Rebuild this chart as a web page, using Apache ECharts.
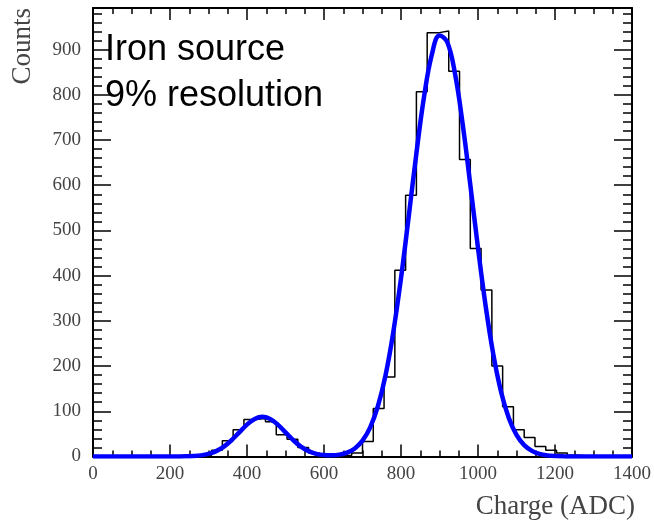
<!DOCTYPE html>
<html><head><meta charset="utf-8">
<script src="https://cdn.jsdelivr.net/npm/echarts@6/dist/echarts.min.js"></script>
<style>html,body{margin:0;padding:0;background:#fff}#c{width:654px;height:523px}</style>
</head><body><div id="c"></div>
<script>
// Histogram: 50 bins of width 28 ADC over 0..1400
const binWidth = 28;
const binCounts = [
  0, 0, 0, 0, 0, 0, 0, 0, 0, 0,
  3, 14, 35, 59, 82, 84, 77, 48, 38, 20,
  8, 3, 2, 3, 8, 33, 106, 176, 412, 578,
  807, 937, 941, 852, 657, 460, 368, 200, 110, 59,
  42, 22, 14, 8, 3, 1, 0, 0, 0, 0
];
// Fit curve
const fitX = [0,20,40,60,80,100,120,140,160,180,200,220,240,260,280,300,320,340,360,380,
  400,420,440,460,480,500,520,540,560,580,600,620,640,660,680,700,720,740,760,780,
  800,820,840,860,880,900,920,940,960,980,1000,1020,1040,1060,1080,1100,1120,1140,1160,1180,
  1200,1220,1240,1260,1280,1300,1320,1340,1360,1380,1400];
const fitY = [0,0,0,0,0,0,0,0,0,0,0,0.1,0.3,1.0,2.5,5.8,11.9,21.9,36.2,53.4,
  70.5,83.2,88,83.2,70.5,53.4,36.2,21.9,11.9,5.9,3.2,2.6,4.2,8.7,17.9,35,64.4,111.2,180.4,275.3,
  394.3,530.5,670.7,796.5,888.5,931,916.8,847.8,736.6,601.2,461,332,224.7,142.8,85.3,47.8,25.2,12.5,5.8,2.5,
  1.0,0.4,0,0,0,0,0,0,0,0,0];
const xTickLabels = [0, 200, 400, 600, 800, 1000, 1200, 1400];
const yTickLabels = [0, 100, 200, 300, 400, 500, 600, 700, 800, 900];
const xTitle = 'Charge (ADC)';
const yTitle = 'Counts';
const noteLines = ['Iron source', '9% resolution'];

const histData = binCounts.map((c, i) => [i * binWidth, c]);
histData.push([binCounts.length * binWidth, binCounts[binCounts.length - 1]]);
const fitData = fitX.map((x, i) => [x, fitY[i]]);

const serif = 'Liberation Serif';
const lineStyle = { color: '#000', width: 2 };
const tickStyle = { color: '#000', width: 1.5 };

function xAx(pos, showLabel) {
  return {
    type: 'value', position: pos, min: 0, max: 1400, interval: 200,
    axisLine: { show: true, onZero: false, lineStyle },
    axisTick: { show: true, inside: true, length: 12, lineStyle: tickStyle },
    minorTick: { show: true, splitNumber: 4, length: 6, lineStyle: tickStyle },
    splitLine: { show: false },
    axisLabel: {
      show: showLabel, margin: 8, color: '#444', fontFamily: serif, fontSize: 19,
      formatter: v => xTickLabels.includes(v) ? String(v) : ''
    }
  };
}
function yAx(pos, showLabel) {
  return {
    type: 'value', position: pos, min: 0, max: 992, interval: 100,
    axisLine: { show: true, onZero: false, lineStyle },
    axisTick: { show: true, inside: true, length: 18, lineStyle: tickStyle },
    minorTick: { show: true, splitNumber: 5, length: 9, lineStyle: tickStyle },
    splitLine: { show: false },
    axisLabel: {
      show: showLabel, margin: 12, color: '#444', fontFamily: serif, fontSize: 19,
      formatter: v => yTickLabels.includes(v) ? String(v) : ''
    }
  };
}

const chart = echarts.init(document.getElementById('c'), null, { renderer: 'canvas' });
chart.setOption({
  animation: false,
  backgroundColor: '#fff',
  grid: { left: 93, right: 16, top: 8, bottom: 66.5 },
  xAxis: [xAx('bottom', true), xAx('top', false)],
  yAxis: [yAx('left', true), yAx('right', false)],
  series: [
    {
      type: 'line', data: histData, step: 'end', symbol: 'none',
      lineStyle: { color: '#000', width: 1.5 }, z: 2
    },
    {
      type: 'line', data: fitData, smooth: 0.4, symbol: 'none',
      lineStyle: { color: '#0000ff', width: 4.5 }, z: 3
    }
  ],
  graphic: [
    { type: 'text', left: 105, top: 32, z: 10,
      style: { text: noteLines[0], fontFamily: 'Liberation Sans', fontSize: 36, fill: '#000' } },
    { type: 'text', left: 105, top: 78, z: 10,
      style: { text: noteLines[1], fontFamily: 'Liberation Sans', fontSize: 36, fill: '#000' } },
    { type: 'text', x: 23, y: 8, rotation: Math.PI / 2, z: 10,
      style: { text: yTitle, fontFamily: serif, fontSize: 27, fill: '#444',
        align: 'right', verticalAlign: 'middle' } },
    { type: 'text', x: 635, y: 507, z: 10,
      style: { text: xTitle, fontFamily: serif, fontSize: 27, fill: '#444',
        align: 'right', verticalAlign: 'middle' } }
  ]
});
</script>
</body></html>
